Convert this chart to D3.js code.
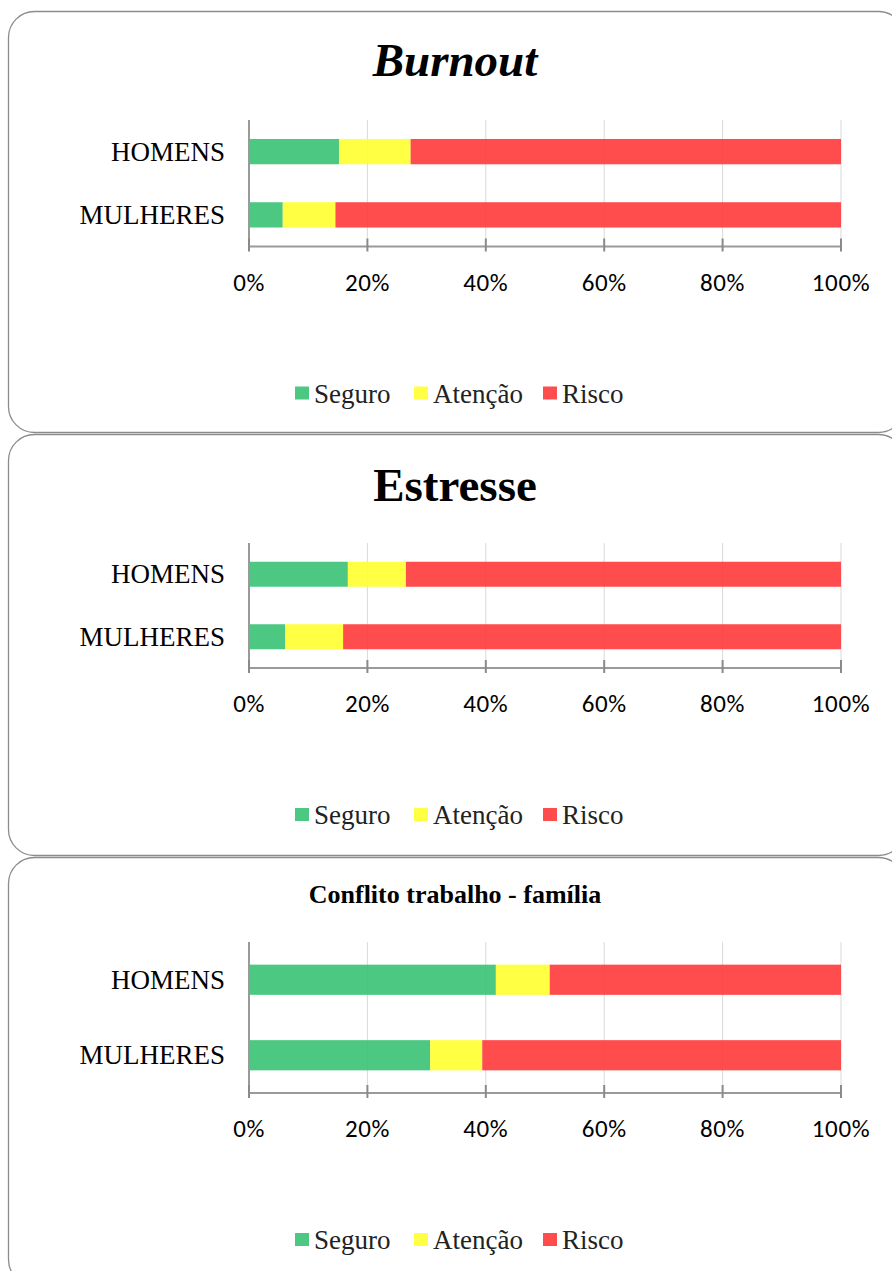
<!DOCTYPE html>
<html>
<head>
<meta charset="utf-8">
<script src="https://cdn.jsdelivr.net/npm/d3@7"></script>
<style>
  body { margin: 0; background: #fff; }
  svg { display: block; }
</style>
</head>
<body>
<script>
// categories and series (percent of each group)
var groups = ["HOMENS", "MULHERES"]
var levels = ["Seguro", "Atenção", "Risco"]
var colors = ["#3ac274", "#ffff2f", "#ff3939"]
var ticks = [0, 20, 40, 60, 80, 100]

var burnout = [[15.2, 12.1, 72.7], [5.7, 8.9, 85.4]]
var estresse = [[16.7, 9.8, 73.5], [6.1, 9.8, 84.1]]
var conflito = [[41.7, 9.1, 49.2], [30.6, 8.8, 60.6]]

var panels = [
  {title: "Burnout", italic: true, size: 47, top: 11, h: 421, titleY: 65, plotTop: 109, axisY: 235.5, data: burnout},
  {title: "Estresse", italic: false, size: 47, top: 434, h: 421, titleY: 67, plotTop: 109, axisY: 234, data: estresse},
  {title: "Conflito trabalho - família", italic: false, size: 26, top: 857, h: 428, titleY: 46, plotTop: 85, axisY: 236, data: conflito}
]

var W = 892, H = 1271
var serif = "'Liberation Serif', 'Times New Roman', serif"
var svg = d3.select("body").append("svg")
    .attr("width", W)
    .attr("height", H)

var x = d3.scaleLinear().domain([0, 100]).range([249, 841])

panels.forEach(function(p) {
  var g = svg.append("g").attr("transform", "translate(0," + p.top + ")")

  // panel frame
  g.append("rect")
    .attr("x", 8.5).attr("y", 0.5)
    .attr("width", 896).attr("height", p.h)
    .attr("rx", 26).attr("ry", 26)
    .attr("fill", "#fff")
    .attr("stroke", "#8c8c8c")
    .attr("stroke-width", 1.3)

  g.append("text")
    .attr("x", 455).attr("y", p.titleY)
    .attr("text-anchor", "middle")
    .style("font-family", serif)
    .style("font-weight", "bold")
    .style("font-style", p.italic ? "italic" : "normal")
    .style("font-size", p.size + "px")
    .style("fill", "#000")
    .text(p.title)

  var y = d3.scaleBand().domain(groups).range([p.plotTop, p.axisY]).paddingInner(0.6).paddingOuter(0.3)

  // gridlines
  g.selectAll(".grid")
    .data(ticks.slice(1))
    .enter().append("line")
      .attr("x1", function(d) { return x(d) }).attr("x2", function(d) { return x(d) })
      .attr("y1", p.plotTop).attr("y2", p.axisY)
      .attr("stroke", "#d9d9d9")
      .attr("stroke-width", 1)

  // stacked bars
  groups.forEach(function(grp, i) {
    var acc = 0
    p.data[i].forEach(function(v, j) {
      g.append("rect")
        .attr("x", x(acc))
        .attr("y", y(grp))
        .attr("width", x(acc + v) - x(acc))
        .attr("height", y.bandwidth())
        .attr("fill", colors[j])
        .attr("fill-opacity", 0.9)
      acc += v
    })
  })

  // category labels
  g.selectAll(".cat")
    .data(groups)
    .enter().append("text")
      .attr("x", 225)
      .attr("y", function(d) { return y(d) + y.bandwidth() / 2 + 9 })
      .attr("text-anchor", "end")
      .style("font-family", serif)
      .style("font-size", "27px")
      .style("fill", "#000")
      .text(function(d) { return d })

  // axes
  g.append("line")
    .attr("x1", x(0)).attr("x2", x(0))
    .attr("y1", p.plotTop).attr("y2", p.axisY)
    .attr("stroke", "#9a9a9a").attr("stroke-width", 2)
  g.append("line")
    .attr("x1", x(0)).attr("x2", x(100))
    .attr("y1", p.axisY).attr("y2", p.axisY)
    .attr("stroke", "#9a9a9a").attr("stroke-width", 2)
  g.selectAll(".tick")
    .data(ticks)
    .enter().append("line")
      .attr("x1", function(d) { return x(d) }).attr("x2", function(d) { return x(d) })
      .attr("y1", p.axisY - 8).attr("y2", p.axisY + 5)
      .attr("stroke", "#8a8a8a").attr("stroke-width", 2)
  g.selectAll(".ticklabel")
    .data(ticks)
    .enter().append("text")
      .attr("x", function(d) { return x(d) })
      .attr("y", p.axisY + 44)
      .attr("text-anchor", "middle")
      .style("font-family", "Carlito, Lato, sans-serif")
      .style("font-size", "25px")
      .style("letter-spacing", "0.6px")
      .style("fill", "#000")
      .text(function(d) { return d + "%" })

  // legend
  var lx = [295, 414, 543]
  var leg = g.selectAll(".leg")
    .data(levels)
    .enter().append("g")
      .attr("transform", function(d, i) { return "translate(" + lx[i] + "," + (p.axisY + 147) + ")" })
  leg.append("rect")
    .attr("x", 0).attr("y", -7)
    .attr("width", 14).attr("height", 13)
    .attr("fill", function(d, i) { return colors[i] })
    .attr("fill-opacity", 0.9)
  leg.append("text")
    .attr("x", 19).attr("y", 9)
    .style("font-family", serif)
    .style("font-size", "27px")
    .style("fill", "#222")
    .text(function(d) { return d })
})
</script>
</body>
</html>
